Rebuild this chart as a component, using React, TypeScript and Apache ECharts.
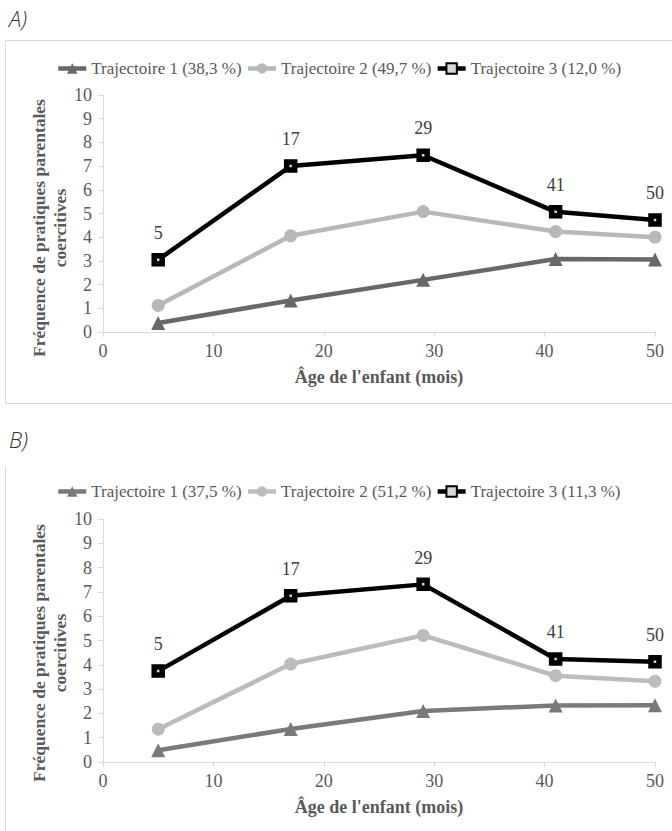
import React, { useEffect, useRef } from "react";
import * as echarts from "echarts";

const ages = [5, 17, 29, 41, 50];
const xTicks = [0, 10, 20, 30, 40, 50];
const yTicks = [0, 1, 2, 3, 4, 5, 6, 7, 8, 9, 10];

const namesA = ["Trajectoire 1 (38,3 %)", "Trajectoire 2 (49,7 %)", "Trajectoire 3 (12,0 %)"];
const trajA1 = [0.38, 1.33, 2.2, 3.08, 3.06];
const trajA2 = [1.12, 4.06, 5.08, 4.24, 4.0];
const trajA3 = [3.05, 7.0, 7.46, 5.07, 4.73];

const namesB = ["Trajectoire 1 (37,5 %)", "Trajectoire 2 (51,2 %)", "Trajectoire 3 (11,3 %)"];
const trajB1 = [0.48, 1.36, 2.1, 2.33, 2.34];
const trajB2 = [1.35, 4.03, 5.21, 3.55, 3.32];
const trajB3 = [3.74, 6.84, 7.31, 4.24, 4.13];

const panelLabels = ["A)", "B)"];
const yTitle = "Fréquence de pratiques parentales\ncoercitives";
const xTitle = "Âge de l'enfant (mois)";

const SERIF = "Liberation Serif";
const AXIS_GRAY = "#d9d9d9";
const TEXT_GRAY = "#595959";

function pts(vals: number[]) {
  return ages.map((a, i) => [a, vals[i]]);
}

function makeSeries(names: string[], vals: number[][], idx: number, dark: string, light: string) {
  return [
    {
      type: "line",
      name: names[0],
      xAxisIndex: idx,
      yAxisIndex: idx,
      data: pts(vals[0]),
      symbol: "triangle",
      symbolSize: 14,
      lineStyle: { color: dark, width: 4.5 },
      itemStyle: { color: dark },
      z: 2,
    },
    {
      type: "line",
      name: names[1],
      xAxisIndex: idx,
      yAxisIndex: idx,
      data: pts(vals[1]),
      symbol: "circle",
      symbolSize: 13,
      lineStyle: { color: light, width: 4.5 },
      itemStyle: { color: light },
      z: 3,
    },
    {
      type: "line",
      name: names[2],
      xAxisIndex: idx,
      yAxisIndex: idx,
      data: pts(vals[2]),
      symbol: "rect",
      symbolSize: 8,
      lineStyle: { color: "#000000", width: 4.5 },
      itemStyle: { color: "#d8d8d8", borderColor: "#000000", borderWidth: 5.5 },
      label: {
        show: true,
        position: "top",
        distance: 11,
        formatter: (p: any) => String(p.value[0]),
        fontFamily: SERIF,
        fontSize: 18,
        color: "#404040",
      },
      z: 4,
    },
  ];
}

function makeAxes(idx: number) {
  const x = {
    type: "value",
    gridIndex: idx,
    min: xTicks[0],
    max: xTicks[xTicks.length - 1],
    interval: 10,
    splitLine: { show: false },
    axisLine: { show: true, lineStyle: { color: AXIS_GRAY, width: 1 } },
    axisTick: { show: true, inside: false, length: 5, lineStyle: { color: AXIS_GRAY } },
    axisLabel: { fontFamily: SERIF, fontSize: 18, color: TEXT_GRAY, margin: 10 },
    name: xTitle,
    nameLocation: "middle",
    nameGap: 36,
    nameTextStyle: { fontFamily: SERIF, fontSize: 18, fontWeight: "bold", color: TEXT_GRAY },
  };
  const y = {
    type: "value",
    gridIndex: idx,
    min: yTicks[0],
    max: yTicks[yTicks.length - 1],
    interval: 1,
    splitLine: { show: false },
    axisLine: { show: true, lineStyle: { color: AXIS_GRAY, width: 1 } },
    axisTick: { show: true, inside: false, length: 5, lineStyle: { color: AXIS_GRAY } },
    axisLabel: { fontFamily: SERIF, fontSize: 18, color: TEXT_GRAY, margin: 11 },
  };
  return { x, y };
}

export default function App() {
  const ref = useRef<HTMLDivElement>(null);

  useEffect(() => {
    document.body.style.margin = "0";
    if (!ref.current) return;
    const chart = echarts.init(ref.current, undefined, { renderer: "svg" });
    const a = makeAxes(0);
    const b = makeAxes(1);

    const legendCommon = {
      left: 51,
      orient: "horizontal",
      itemWidth: 28,
      itemHeight: 13,
      itemGap: 4,
      lineStyle: { width: 4.5 },
      textStyle: { fontFamily: SERIF, fontSize: 17, color: TEXT_GRAY },
    };

    chart.setOption({
      animation: false,
      backgroundColor: "#ffffff",
      grid: [
        { left: 103, top: 95, width: 552, height: 237 },
        { left: 103, top: 519, width: 552, height: 243 },
      ],
      xAxis: [a.x, b.x],
      yAxis: [a.y, b.y],
      legend: [
        { ...legendCommon, top: 55, data: namesA },
        { ...legendCommon, top: 478, data: namesB },
      ],
      series: [
        ...makeSeries(namesA, [trajA1, trajA2, trajA3], 0, "#686868", "#b8b8b8"),
        ...makeSeries(namesB, [trajB1, trajB2, trajB3], 1, "#7a7a7a", "#bcbcbc"),
      ],
      graphic: [
        {
          type: "text",
          left: 9,
          top: 7,
          style: { text: panelLabels[0], font: "italic 300 22px 'Open Sans', sans-serif", fill: "#333333" },
        },
        {
          type: "text",
          left: 9,
          top: 428,
          style: { text: panelLabels[1], font: "italic 300 22px 'Open Sans', sans-serif", fill: "#333333" },
        },
        {
          type: "rect",
          shape: { x: 5.5, y: 40.5, width: 700, height: 363 },
          style: { fill: "none", stroke: AXIS_GRAY, lineWidth: 1 },
          silent: true,
        },
        {
          type: "line",
          shape: { x1: 5.5, y1: 466, x2: 5.5, y2: 840 },
          style: { stroke: AXIS_GRAY, lineWidth: 1 },
          silent: true,
        },
        {
          type: "text",
          x: 49,
          y: 228,
          rotation: Math.PI / 2,
          style: {
            text: yTitle,
            font: `bold 17.5px ${SERIF}`,
            fill: TEXT_GRAY,
            textAlign: "center",
            textVerticalAlign: "middle",
            lineHeight: 21,
          },
        },
        {
          type: "text",
          x: 49,
          y: 653,
          rotation: Math.PI / 2,
          style: {
            text: yTitle,
            font: `bold 17.5px ${SERIF}`,
            fill: TEXT_GRAY,
            textAlign: "center",
            textVerticalAlign: "middle",
            lineHeight: 21,
          },
        },
      ],
    });
    return () => chart.dispose();
  }, []);

  return <div ref={ref} style={{ width: 672, height: 831 }} />;
}
